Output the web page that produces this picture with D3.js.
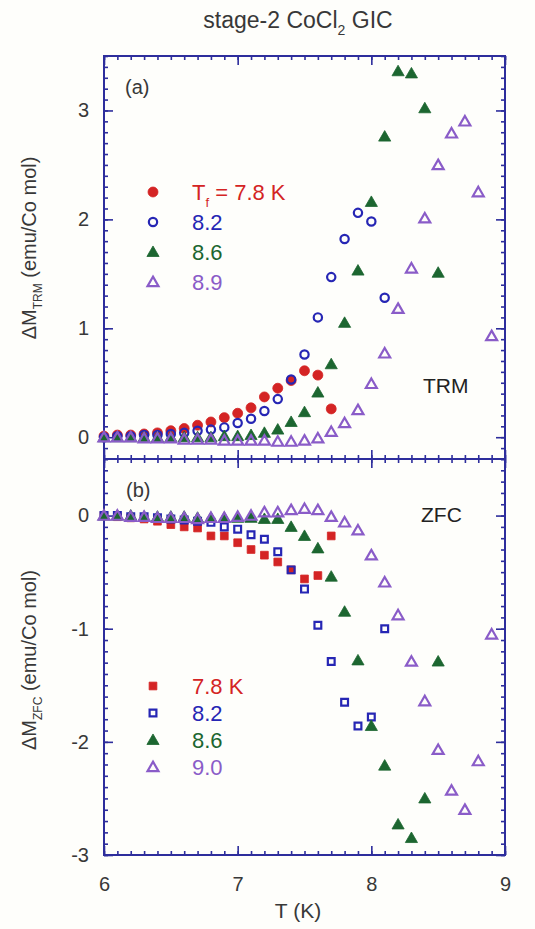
<!DOCTYPE html>
<html><head><meta charset="utf-8">
<script src="https://cdn.jsdelivr.net/npm/d3@7"></script>
<style>body{margin:0;background:#fefefb;} svg{display:block;} text{font-family:"Liberation Sans",Arial,sans-serif;}</style>
</head><body>
<script>
// ---------- data ----------
const tTRM78 = [6.0,6.1,6.2,6.3,6.4,6.5,6.6,6.7,6.8,6.9,7.0,7.1,7.2,7.3,7.4,7.5,7.6,7.7];
const vTRM78 = [0.01,0.02,0.02,0.03,0.04,0.06,0.08,0.11,0.14,0.18,0.22,0.27,0.37,0.45,0.52,0.61,0.57,0.26];
const tTRM82 = [6.0,6.1,6.2,6.3,6.4,6.5,6.6,6.7,6.8,6.9,7.0,7.1,7.2,7.3,7.4,7.5,7.6,7.7,7.8,7.9,8.0,8.1];
const vTRM82 = [0.0,0.01,0.01,0.02,0.02,0.03,0.04,0.06,0.07,0.09,0.13,0.17,0.24,0.35,0.53,0.76,1.10,1.47,1.82,2.06,1.98,1.28];
const tTRM86 = [6.0,6.1,6.2,6.3,6.4,6.5,6.6,6.7,6.8,6.9,7.0,7.1,7.2,7.3,7.4,7.5,7.6,7.7,7.8,7.9,8.0,8.1,8.2,8.3,8.4,8.5];
const vTRM86 = [0.0,0.0,0.0,0.0,0.0,0.0,0.0,0.0,0.0,0.01,0.01,0.02,0.04,0.07,0.14,0.23,0.41,0.67,1.05,1.53,2.16,2.76,3.36,3.34,3.02,1.51];
const tTRM89 = [6.0,6.1,6.2,6.3,6.4,6.5,6.6,6.7,6.8,6.9,7.0,7.1,7.2,7.3,7.4,7.5,7.6,7.7,7.8,7.9,8.0,8.1,8.2,8.3,8.4,8.5,8.6,8.7,8.8,8.9];
const vTRM89 = [0.0,0.0,0.0,-0.01,-0.01,-0.01,-0.02,-0.02,-0.02,-0.03,-0.03,-0.03,-0.03,-0.04,-0.04,-0.03,-0.01,0.05,0.13,0.25,0.49,0.77,1.18,1.55,2.01,2.50,2.79,2.90,2.25,0.93];

const tZFC78 = [6.0,6.1,6.2,6.3,6.4,6.5,6.6,6.7,6.8,6.9,7.0,7.1,7.2,7.3,7.4,7.5,7.6,7.7];
const vZFC78 = [0.0,-0.01,-0.02,-0.03,-0.05,-0.08,-0.10,-0.11,-0.18,-0.18,-0.24,-0.30,-0.35,-0.41,-0.48,-0.56,-0.53,-0.18];
const tZFC82 = [6.0,6.1,6.2,6.3,6.4,6.5,6.6,6.7,6.8,6.9,7.0,7.1,7.2,7.3,7.4,7.5,7.6,7.7,7.8,7.9,8.0,8.1];
const vZFC82 = [0.0,0.0,-0.01,-0.01,-0.02,-0.03,-0.04,-0.05,-0.06,-0.10,-0.12,-0.17,-0.21,-0.32,-0.48,-0.65,-0.97,-1.29,-1.65,-1.86,-1.78,-1.00];
const tZFC86 = [6.0,6.1,6.2,6.3,6.4,6.5,6.6,6.7,6.8,6.9,7.0,7.1,7.2,7.3,7.4,7.5,7.6,7.7,7.8,7.9,8.0,8.1,8.2,8.3,8.4,8.5];
const vZFC86 = [0.0,0.0,0.0,-0.01,-0.01,-0.01,-0.01,-0.02,-0.02,-0.02,-0.02,-0.02,-0.03,-0.03,-0.10,-0.18,-0.29,-0.54,-0.85,-1.28,-1.86,-2.21,-2.73,-2.85,-2.50,-1.29];
const tZFC90 = [6.0,6.1,6.2,6.3,6.4,6.5,6.6,6.7,6.8,6.9,7.0,7.1,7.2,7.3,7.4,7.5,7.6,7.7,7.8,7.9,8.0,8.1,8.2,8.3,8.4,8.5,8.6,8.7,8.8,8.9];
const vZFC90 = [0.0,0.0,-0.01,-0.01,-0.02,-0.02,-0.02,-0.03,-0.02,-0.02,-0.01,0.0,0.03,0.03,0.05,0.06,0.05,-0.01,-0.06,-0.13,-0.35,-0.59,-0.88,-1.29,-1.64,-2.07,-2.43,-2.60,-2.17,-1.05];

const xTicks = [6,7,8,9];
const yTicksTop = [0,1,2,3];
const yTicksBot = [0,-1,-2,-3];
const legendTop = ["7.8 K","8.2","8.6","8.9"];
const legendBot = ["7.8 K","8.2","8.6","9.0"];

// ---------- layout ----------
const W = 535, H = 929;
const L = 104, R = 505, Ttop = 56, Mid = 459, B = 855;
const axisCol = "#2d2d9c", textCol = "#383838";
const cols = {red:"#d42424", blue:"#2626b4", green:"#1c6630", purple:"#8a5cc8"};

const svg = d3.select("body").append("svg").attr("width", W).attr("height", H);
svg.append("rect").attr("width", W).attr("height", H).attr("fill", "#fefefb");

const x = d3.scaleLinear().domain([6, 9]).range([L, R]);
const yTop = d3.scaleLinear().domain([-0.2, 3.5]).range([Mid, Ttop]);
const yBot = d3.scaleLinear().domain([-3, 0.5]).range([B, Mid]);

const minorX = d3.range(60, 91).map(d => d / 10);
const minorTop = d3.range(-2, 36).map(d => d / 10);
const minorBot = d3.range(-30, 6).map(d => d / 10);

function tickAxis(axisFn, scale, translate, values, size) {
  const g = svg.append("g").attr("transform", translate)
    .call(axisFn(scale).tickValues(values).tickSize(size).tickFormat(""));
  g.select(".domain").remove();
  g.selectAll("line").attr("stroke", axisCol).attr("stroke-width", 1.6);
  return g;
}

// top panel ticks
tickAxis(d3.axisLeft, yTop, `translate(${L},0)`, minorTop, -4);
tickAxis(d3.axisLeft, yTop, `translate(${L},0)`, yTicksTop, -9);
tickAxis(d3.axisRight, yTop, `translate(${R},0)`, minorTop, -4);
tickAxis(d3.axisRight, yTop, `translate(${R},0)`, yTicksTop, -9);
tickAxis(d3.axisTop, x, `translate(0,${Ttop})`, minorX, -4);
tickAxis(d3.axisTop, x, `translate(0,${Ttop})`, xTicks, -9);
tickAxis(d3.axisBottom, x, `translate(0,${Mid})`, minorX, -4);
tickAxis(d3.axisBottom, x, `translate(0,${Mid})`, xTicks, -9);
// bottom panel ticks
tickAxis(d3.axisLeft, yBot, `translate(${L},0)`, minorBot, -4);
tickAxis(d3.axisLeft, yBot, `translate(${L},0)`, yTicksBot, -9);
tickAxis(d3.axisRight, yBot, `translate(${R},0)`, minorBot, -4);
tickAxis(d3.axisRight, yBot, `translate(${R},0)`, yTicksBot, -9);
tickAxis(d3.axisTop, x, `translate(0,${Mid})`, minorX, -4);
tickAxis(d3.axisTop, x, `translate(0,${Mid})`, xTicks, -9);
tickAxis(d3.axisBottom, x, `translate(0,${B})`, minorX, -4);
tickAxis(d3.axisBottom, x, `translate(0,${B})`, xTicks, -9);

// frames
svg.append("rect").attr("x", L).attr("y", Ttop).attr("width", R - L).attr("height", B - Ttop)
  .attr("fill", "none").attr("stroke", axisCol).attr("stroke-width", 2);
svg.append("line").attr("x1", L).attr("x2", R).attr("y1", Mid).attr("y2", Mid)
  .attr("stroke", axisCol).attr("stroke-width", 2);

// tick labels
function labelAxis(axisFn, scale, translate, values, fmt) {
  const g = svg.append("g").attr("transform", translate)
    .call(axisFn(scale).tickValues(values).tickSize(0).tickPadding(axisFn === d3.axisLeft ? 15 : 22).tickFormat(fmt));
  g.select(".domain").remove();
  g.selectAll("text").attr("fill", textCol).style("font-size", "20px")
    .style("font-family", "'Liberation Sans',Arial,sans-serif");
  return g;
}
labelAxis(d3.axisLeft, yTop, `translate(${L},0)`, yTicksTop.slice(0), d3.format("d"));
labelAxis(d3.axisLeft, yBot, `translate(${L},0)`, yTicksBot, d => d === 0 ? "0" : "-" + Math.abs(d));
labelAxis(d3.axisBottom, x, `translate(0,${B})`, xTicks, d3.format("d"));

// markers
const sym = {
  fcircle: d3.symbol().type(d3.symbolCircle).size(78),
  ocircle: d3.symbol().type(d3.symbolCircle).size(54),
  fsquare: d3.symbol().type(d3.symbolSquare).size(60),
  osquare: d3.symbol().type(d3.symbolSquare).size(46),
  ftri: d3.symbol().type(d3.symbolTriangle).size(64),
  otri: d3.symbol().type(d3.symbolTriangle).size(52)
};
function drawSeries(ts, vs, yScale, shape, color, filled) {
  const data = ts.map((t, i) => ({t, v: vs[i]}));
  svg.append("g").selectAll("path").data(data).join("path")
    .attr("transform", d => `translate(${x(d.t)},${yScale(d.v) + (shape.includes("tri") ? 1 : 0)})`)
    .attr("d", sym[shape]())
    .attr("fill", filled ? color : "none")
    .attr("stroke", color)
    .attr("stroke-width", filled ? 0.8 : 2.2);
}
drawSeries(tTRM78, vTRM78, yTop, "fcircle", cols.red, true);
drawSeries(tTRM82, vTRM82, yTop, "ocircle", cols.blue, false);
drawSeries(tTRM86, vTRM86, yTop, "ftri", cols.green, true);
drawSeries(tTRM89, vTRM89, yTop, "otri", cols.purple, false);

drawSeries(tZFC78, vZFC78, yBot, "fsquare", cols.red, true);
drawSeries(tZFC82, vZFC82, yBot, "osquare", cols.blue, false);
drawSeries(tZFC86, vZFC86, yBot, "ftri", cols.green, true);
drawSeries(tZFC90, vZFC90, yBot, "otri", cols.purple, false);

// legends
function legend(items, shapes, colors, filled, y0, dy, first) {
  items.forEach((txt, i) => {
    const yy = y0 + i * dy;
    svg.append("path").attr("transform", `translate(153,${yy + (shapes[i].includes("tri") ? 1 : 0)})`)
      .attr("d", sym[shapes[i]]())
      .attr("fill", filled[i] ? colors[i] : "none").attr("stroke", colors[i])
      .attr("stroke-width", filled[i] ? 0.8 : 2.2);
    const t = svg.append("text").attr("x", 192).attr("y", yy + 8).attr("fill", colors[i])
      .style("font-size", "22px");
    if (i === 0 && first) {
      t.append("tspan").text("T");
      t.append("tspan").attr("dy", 7).style("font-size", "13px").text("f");
      t.append("tspan").attr("dy", -7).text(" = " + txt);
    } else {
      t.text(txt);
    }
  });
}
const legCols = [cols.red, cols.blue, cols.green, cols.purple];
legend(legendTop, ["fcircle","ocircle","ftri","otri"], legCols, [true,false,true,false], 192, 30, true);
legend(legendBot, ["fsquare","osquare","ftri","otri"], legCols, [true,false,true,false], 686, 27, false);

// panel labels
svg.append("text").attr("x", 125).attr("y", 94).attr("fill", textCol).style("font-size", "20px").text("(a)");
svg.append("text").attr("x", 126).attr("y", 497).attr("fill", textCol).style("font-size", "20px").text("(b)");
svg.append("text").attr("x", 423).attr("y", 393).attr("fill", "#222").style("font-size", "21px").text("TRM");
svg.append("text").attr("x", 421).attr("y", 522).attr("fill", "#222").style("font-size", "21px").text("ZFC");

// title
const title = svg.append("text").attr("x", 298).attr("y", 28).attr("text-anchor", "middle")
  .attr("fill", textCol).style("font-size", "23px");
title.append("tspan").text("stage-2 CoCl");
title.append("tspan").attr("dy", 7).style("font-size", "14px").text("2");
title.append("tspan").attr("dy", -7).text(" GIC");

// x label
svg.append("text").attr("x", 298).attr("y", 918).attr("text-anchor", "middle")
  .attr("fill", textCol).style("font-size", "21px").text("T (K)");

// y labels
function yLabel(sub, cy) {
  const t = svg.append("text").attr("transform", `translate(36,${cy}) rotate(-90)`)
    .attr("text-anchor", "middle").attr("fill", textCol).style("font-size", "20px");
  t.append("tspan").text("ΔM");
  t.append("tspan").attr("dy", 6).style("font-size", "12px").text(sub);
  t.append("tspan").attr("dy", -6).text(" (emu/Co mol)");
}
yLabel("TRM", 248);
yLabel("ZFC", 660);
</script>
</body></html>
